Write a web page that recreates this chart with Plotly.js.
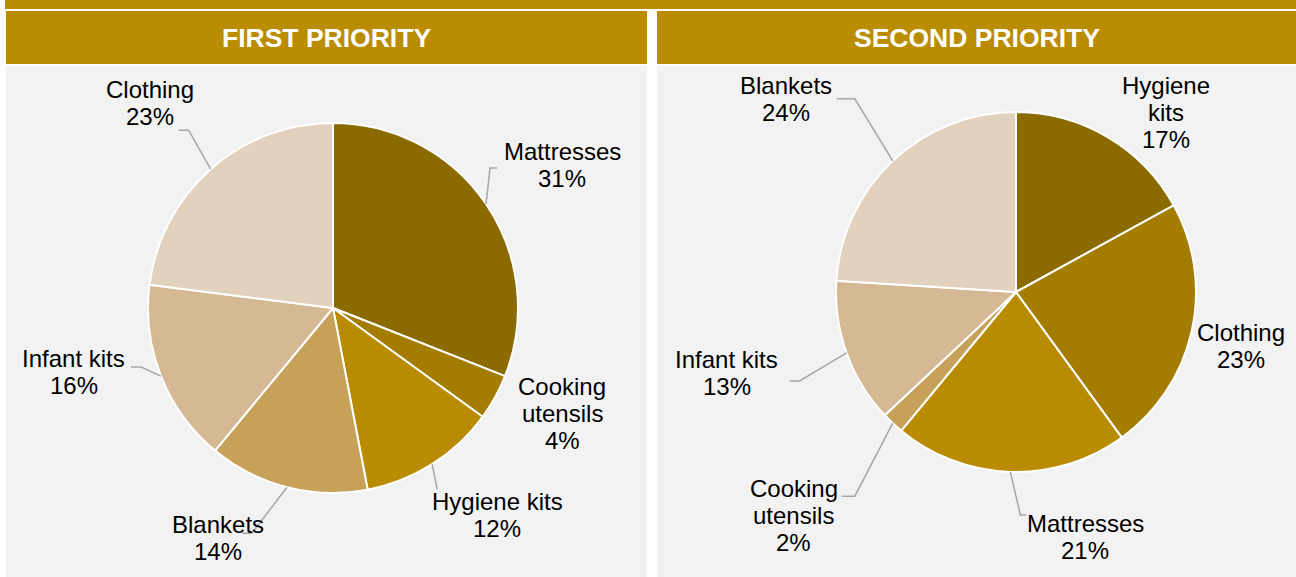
<!DOCTYPE html>
<html>
<head>
<meta charset="utf-8">
<script src="https://cdn.plot.ly/plotly-3.0.1.min.js"></script>
<style>html,body{margin:0;padding:0;background:#fff;}#chart{width:1296px;height:577px;}</style>
</head>
<body>
<div id="chart"></div>
<script>
// ---- data ----
const titles = ['FIRST PRIORITY', 'SECOND PRIORITY'];
const categories1 = ['Mattresses', 'Cooking utensils', 'Hygiene kits', 'Blankets', 'Infant kits', 'Clothing'];
const values1 = [31, 4, 12, 14, 16, 23];
const categories2 = ['Hygiene kits', 'Clothing', 'Mattresses', 'Cooking utensils', 'Infant kits', 'Blankets'];
const values2 = [17, 23, 21, 2, 13, 24];

// ---- styling / layout ----
const W = 1296, H = 577;
const sliceColors = ['#8B6A00', '#A37C00', '#B98B00', '#C7A15A', '#D5B994', '#E2D1BD'];
const gold = '#BA8C00', panelGrey = '#F2F2F2', leaderColor = '#A6A6A6';
const FONT = 'Liberation Sans, Arial, Helvetica, sans-serif';
const pies = [
  {cx: 333, cy: 308, r: 185},
  {cx: 1016, cy: 292, r: 180}
];
// label placement relative to slice edge midpoint (pixels); leader elbow offset and horizontal tail
const labelCfg = [
  [
    {dx: 76, dy: -39, split: false, elbow: [4, -36], tail: 7},
    {dx: 67, dy: 16, split: true, elbow: null},
    {dx: 65, dy: 51, split: false, elbow: [5, 25], tail: 0},
    {dx: -69, dy: 51, split: false, elbow: [-35, 46], tail: -10},
    {dx: -87, dy: -4, split: false, elbow: [-20, -9], tail: -10},
    {dx: -61, dy: -66, split: false, elbow: [-22, -39], tail: -10}
  ],
  [
    {dx: 58, dy: -25, split: true, elbow: null},
    {dx: 49, dy: 15, split: false, elbow: null},
    {dx: 75, dy: 65, split: false, elbow: [10, 43], tail: 6},
    {dx: -99, dy: 92, split: true, elbow: [-38, 73], tail: -13},
    {dx: -120, dy: 20, split: false, elbow: [-47, 28], tail: -10},
    {dx: -107, dy: -62, split: false, elbow: [-38, -62], tail: -18}
  ]
];
const LABEL_SIZE = 24, LINE_GAP = 27;

const X = px => px / W;
const Y = py => 1 - py / H;

const datasets = [[categories1, values1], [categories2, values2]];
const traces = [];
const annotations = [];
const shapes = [];

// panels
shapes.push({type: 'rect', xref: 'paper', yref: 'paper', x0: X(5), x1: X(1296), y0: Y(9), y1: Y(0), fillcolor: gold, line: {width: 0}, layer: 'below'});
const panels = [[6, 647], [657, 1296]];
panels.forEach((p, i) => {
  shapes.push({type: 'rect', xref: 'paper', yref: 'paper', x0: X(p[0]), x1: X(p[1]), y0: Y(64), y1: Y(11), fillcolor: gold, line: {width: 0}, layer: 'below'});
  shapes.push({type: 'rect', xref: 'paper', yref: 'paper', x0: X(p[0]), x1: X(p[1]), y0: Y(577), y1: Y(66), fillcolor: panelGrey, line: {width: 0}, layer: 'below'});
  annotations.push({xref: 'paper', yref: 'paper', x: X((p[0] + p[1]) / 2), y: Y(38), text: '<b>' + titles[i] + '</b>', showarrow: false, xanchor: 'center', yanchor: 'middle', font: {family: FONT, size: 26.5, color: '#FFFFFF'}});
});

datasets.forEach(([cats, vals], k) => {
  const P = pies[k];
  traces.push({
    type: 'pie', labels: cats, values: vals, sort: false, direction: 'clockwise', rotation: 0,
    marker: {colors: sliceColors, line: {color: '#FFFFFF', width: 2}},
    textinfo: 'none', hoverinfo: 'label+percent', showlegend: false,
    domain: {x: [X(P.cx - P.r), X(P.cx + P.r)], y: [Y(P.cy + P.r), Y(P.cy - P.r)]}
  });
  const total = vals.reduce((a, b) => a + b, 0);
  let cum = 0;
  vals.forEach((v, i) => {
    const mid = (cum + v / 2) / total * 2 * Math.PI;
    cum += v;
    const ex = P.cx + P.r * Math.sin(mid);
    const ey = P.cy - P.r * Math.cos(mid);
    const c = labelCfg[k][i];
    const lx = ex + c.dx, ly = ey + c.dy;
    let lines = c.split ? cats[i].split(' ') : [cats[i]];
    lines = lines.concat([v + '%']);
    lines.forEach((t, j) => {
      const yy = ly + (j - (lines.length - 1) / 2) * LINE_GAP;
      annotations.push({xref: 'paper', yref: 'paper', x: X(lx), y: Y(yy), text: t, showarrow: false, xanchor: 'center', yanchor: 'middle', font: {family: FONT, size: LABEL_SIZE, color: '#000000'}});
    });
    if (c.elbow) {
      const bx = ex + c.elbow[0], by = ey + c.elbow[1];
      const tx = bx + c.tail;
      shapes.push({type: 'path', xref: 'paper', yref: 'paper',
        path: `M ${X(ex)} ${Y(ey)} L ${X(bx)} ${Y(by)} L ${X(tx)} ${Y(by)}`,
        line: {color: leaderColor, width: 1.5}, layer: 'above'});
    }
  });
});

const layout = {
  width: W, height: H, margin: {l: 0, r: 0, t: 0, b: 0},
  paper_bgcolor: '#FFFFFF', plot_bgcolor: '#FFFFFF',
  showlegend: false, shapes: shapes, annotations: annotations,
  font: {family: FONT}
};
Plotly.newPlot('chart', traces, layout, {displayModeBar: false, responsive: false});
</script>
</body>
</html>
